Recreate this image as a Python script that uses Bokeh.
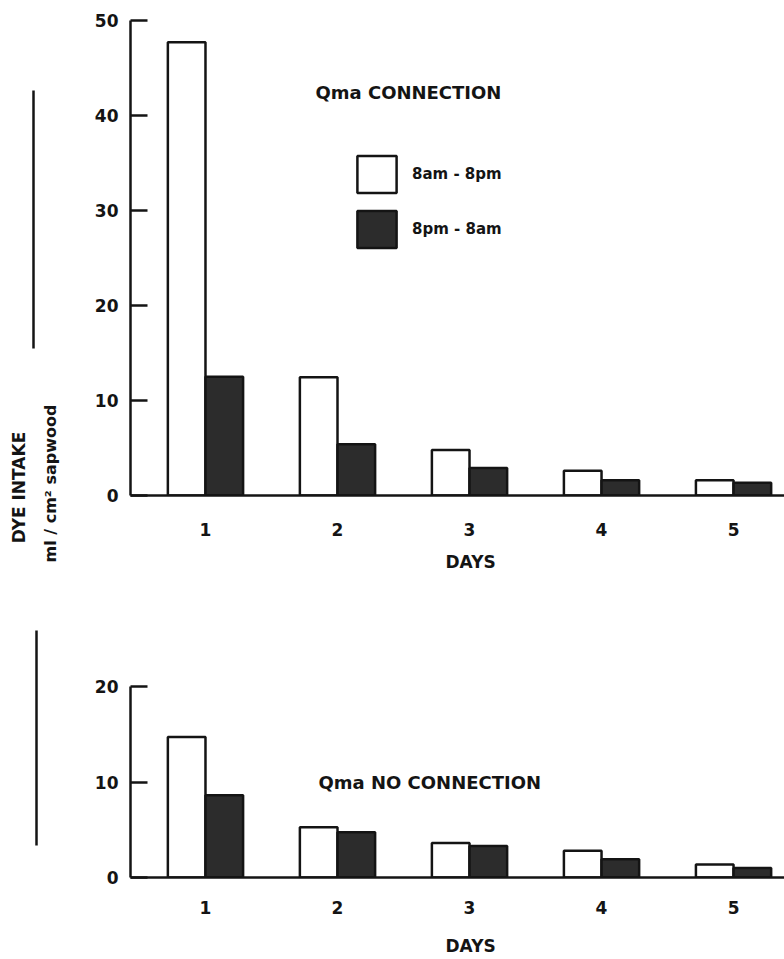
from math import pi
from bokeh.plotting import figure
from bokeh.models import Range1d, FixedTicker, Label, Legend, LegendItem, ColumnDataSource, Title
from bokeh.layouts import row, column
from bokeh.transform import dodge
from bokeh.embed import file_html
from bokeh.resources import INLINE

# ---------------- data ----------------
days = [1, 2, 3, 4, 5]
day_tick_labels = {1: "1", 2: "2", 3: "3", 4: "4", 5: "5"}
series_names = ["8am - 8pm", "8pm - 8am"]

conn_day = [47.7, 12.45, 4.8, 2.6, 1.6]        # Qma CONNECTION, 8am-8pm
conn_night = [12.5, 5.4, 2.9, 1.6, 1.35]       # Qma CONNECTION, 8pm-8am
noconn_day = [14.7, 5.26, 3.6, 2.8, 1.35]      # Qma NO CONNECTION, 8am-8pm
noconn_night = [8.6, 4.74, 3.3, 1.9, 1.0]      # Qma NO CONNECTION, 8pm-8am

top_yticks = [0, 10, 20, 30, 40, 50]
bottom_yticks = [0, 10, 20]

FONT = "DejaVu Sans"
INK = "#141414"
DARK = "#2c2c2c"
BAR_W = 0.285


def panel(day_vals, night_vals, ymax, yticks, top_border, frame_h, bottom_border,
          title, title_x, title_y, label_standoff, days_standoff, legend=False):
    p = figure(frame_width=654, frame_height=frame_h,
               x_range=Range1d(0.432, 5.386), y_range=Range1d(0, ymax),
               min_border_left=52, min_border_right=0,
               min_border_top=top_border, min_border_bottom=bottom_border,
               output_backend="svg", toolbar_location=None)
    p.outline_line_color = None
    p.xgrid.visible = False
    p.ygrid.visible = False
    p.background_fill_color = "white"
    p.border_fill_color = "white"

    src = ColumnDataSource(dict(day=days, d=day_vals, n=night_vals))
    r1 = p.vbar(x=dodge("day", -BAR_W / 2, range=p.x_range), top="d", width=BAR_W,
                source=src, fill_color="white", line_color=INK, line_width=2.5)
    r2 = p.vbar(x=dodge("day", BAR_W / 2, range=p.x_range), top="n", width=BAR_W,
                source=src, fill_color=DARK, line_color=INK, line_width=2.5)

    # y axis
    ya = p.yaxis[0]
    ya.ticker = FixedTicker(ticks=yticks)
    ya.minor_tick_line_color = None
    ya.major_tick_in = 17
    ya.major_tick_out = 0
    ya.major_tick_line_width = 2.5
    ya.major_tick_line_color = INK
    ya.axis_line_width = 2.5
    ya.axis_line_color = INK
    ya.major_label_standoff = 12
    ya.major_label_text_font = FONT
    ya.major_label_text_font_style = "bold"
    ya.major_label_text_font_size = "17px"
    ya.major_label_text_color = INK

    # x axis
    xa = p.xaxis[0]
    xa.ticker = FixedTicker(ticks=days)
    xa.major_label_overrides = day_tick_labels
    xa.major_tick_line_color = None
    xa.minor_tick_line_color = None
    xa.axis_line_width = 2.5
    xa.axis_line_color = INK
    xa.major_label_standoff = label_standoff
    xa.major_label_text_font = FONT
    xa.major_label_text_font_style = "bold"
    xa.major_label_text_font_size = "17px"
    xa.major_label_text_color = INK

    # "DAYS" caption, centred under day 3 as in the original
    p.add_layout(Title(text="DAYS", align="left", offset=315, standoff=days_standoff,
                       vertical_align="top", text_font=FONT, text_font_style="bold",
                       text_font_size="17px", text_color=INK), "below")

    p.add_layout(Label(x=title_x, y=title_y, text=title, text_align="left",
                       text_baseline="middle", text_font=FONT, text_font_style="bold",
                       text_font_size="18px", text_color=INK))

    if legend:
        lg = Legend(items=[LegendItem(label=series_names[0], renderers=[r1]),
                           LegendItem(label=series_names[1], renderers=[r2])],
                    location=(222, 243), glyph_width=49, glyph_height=46,
                    spacing=9, padding=0, margin=0, label_standoff=11,
                    border_line_color=None, background_fill_alpha=0,
                    label_text_font=FONT, label_text_font_style="bold",
                    label_text_font_size="15px", label_text_color=INK)
        p.add_layout(lg)
    return p


top = panel(conn_day, conn_night, 50, top_yticks, 20, 475, 125,
            "Qma CONNECTION", 1.833, 42.4, 21, 26, legend=True)
bottom = panel(noconn_day, noconn_night, 20, bottom_yticks, 66, 191, 82,
               "Qma NO CONNECTION", 1.856, 10.0, 17, 38)

# left strip with the shared y-axis caption
strip = figure(width=78, height=959, x_range=Range1d(0, 78), y_range=Range1d(959, 0),
               min_border=0, x_axis_location=None, y_axis_location=None,
               output_backend="svg", toolbar_location=None)
strip.outline_line_color = None
strip.xgrid.visible = False
strip.ygrid.visible = False
strip.segment(x0=[33, 36], y0=[90, 630], x1=[33, 36], y1=[348, 845],
              line_width=2.5, line_color=INK)
strip.add_layout(Label(x=18, y=487, text="DYE INTAKE", angle=pi / 2,
                       text_align="center", text_baseline="middle", text_font=FONT,
                       text_font_style="bold", text_font_size="17px", text_color=INK))
strip.add_layout(Label(x=50, y=483, text="ml / cm² sapwood", angle=pi / 2,
                       text_align="center", text_baseline="middle", text_font=FONT,
                       text_font_style="bold", text_font_size="16px", text_color=INK))

layout = row(strip, column(top, bottom))

open("out.html", "w").write(file_html(layout, INLINE))
